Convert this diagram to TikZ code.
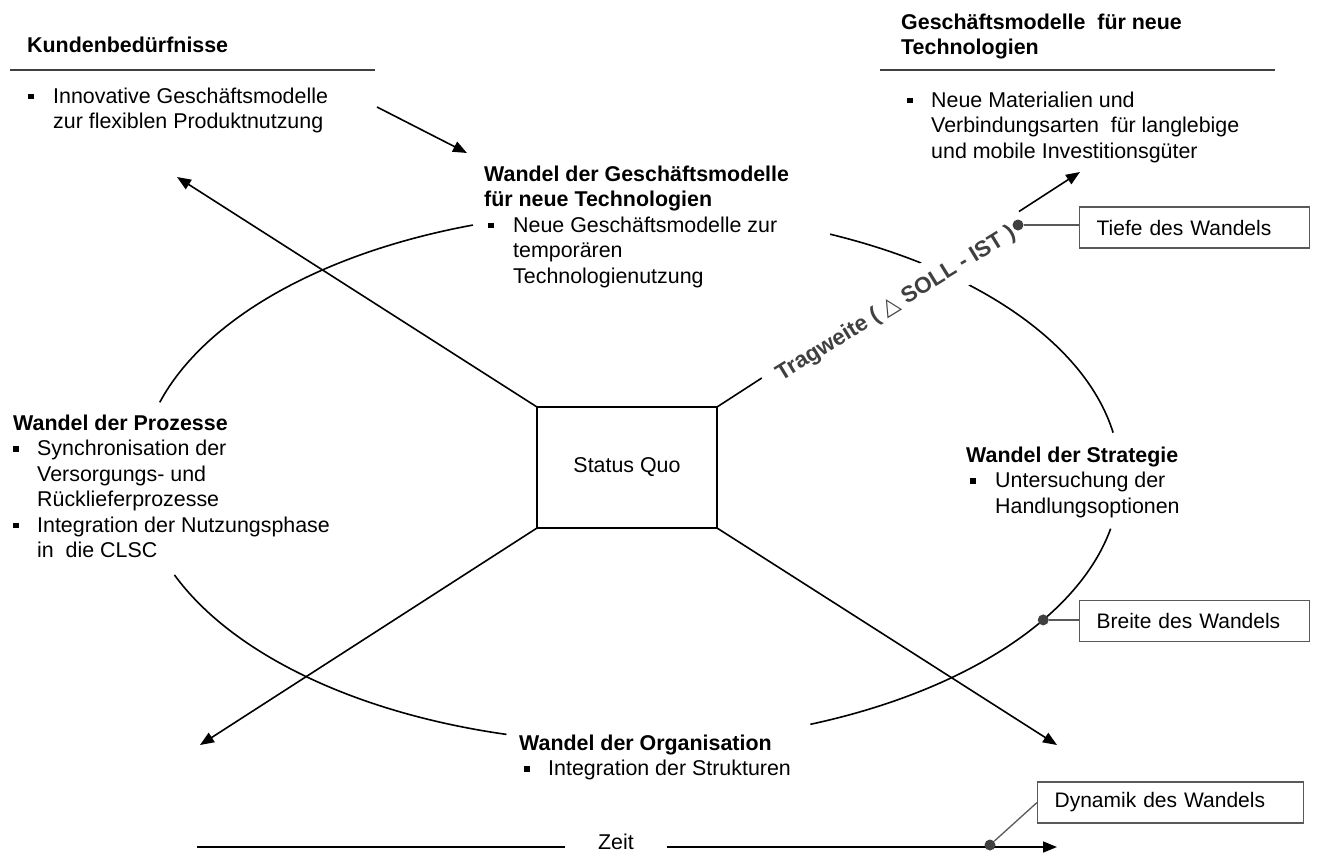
\documentclass[tikz,border=0pt]{standalone}
\usepackage{fontspec}
\setmainfont{Liberation Sans}
\newfontfamily\symfont{DejaVu Sans}
\usetikzlibrary{arrows.meta}

\definecolor{rulec}{HTML}{404040}
\definecolor{boxc}{HTML}{595959}
\definecolor{dotc}{HTML}{404040}
\definecolor{tragc}{HTML}{404040}

\newcommand{\fsz}{\fontsize{21.4}{25.5}\selectfont}
% square bullet: #1 = indent, #2 = width of the bullet column
\newcommand{\bul}[2]{\makebox[#2][l]{\hspace*{#1}\rule[4pt]{5.5pt}{5.5pt}}}
\newcommand{\hd}[1]{\multicolumn{2}{@{}l@{}}{\bfseries #1}}

\begin{document}
\begin{tikzpicture}[x=1pt,y=-1pt,
  txt/.style={inner sep=0pt, anchor=base west, font=\fsz, align=left},
  ln/.style={line width=1.6pt, draw=black},
  arr/.style={ln, -{Triangle[length=14pt,width=11pt]}},
  rulel/.style={line width=1.6pt, draw=rulec},
  callbox/.style={draw=boxc, line width=1.2pt, fill=white, inner xsep=17pt,
    inner ysep=0pt, minimum height=41pt, align=left, anchor=west,
    font=\fontsize{21}{25}\selectfont},
  dotn/.style={circle, fill=dotc, inner sep=0pt, minimum size=11pt},
  cline/.style={draw=boxc, line width=1.3pt},
  ring/.style={ln, x radius=490, y radius=266}]

\useasboundingbox (0,0) rectangle (1317,852);

% ---------- top left: customer needs ----------
\node[txt] (kh) at (27,52) {\bfseries Kundenbedürfnisse};
\coordinate (kr1) at (10,70);
\coordinate (kr2) at (375,70);
\draw[rulel] (kr1) -- (kr2);
\node[txt] (kl) at (28,103) {\begin{tabular}[t]{@{}l@{}l@{}}
\bul{0pt}{25pt} & Innovative Geschäftsmodelle\\
 & zur flexiblen Produktnutzung
\end{tabular}};

% ---------- top right: business models for new technologies ----------
\node[txt] (th) at (901,29) {\begin{tabular}[t]{@{}l@{}}
\bfseries Geschäftsmodelle\ \ für neue\\
\bfseries Technologien
\end{tabular}};
\coordinate (tr1) at (880,70);
\coordinate (tr2) at (1275,70);
\draw[rulel] (tr1) -- (tr2);
\node[txt] (tl) at (907,107) {\begin{tabular}[t]{@{}l@{}l@{}}
\bul{0pt}{24pt} & Neue Materialien und\\
 & Verbindungsarten\ \ für langlebige\\
 & und mobile Investitionsgüter
\end{tabular}};

% ---------- the four fields of change ----------
\node[txt] (gm) at (484,181) {\begin{tabular}[t]{@{}l@{}l@{}}
\hd{Wandel der Geschäftsmodelle}\\
\hd{für neue Technologien}\\
\bul{4pt}{29pt} & Neue Geschäftsmodelle zur\\
 & temporären\\
 & Technologienutzung
\end{tabular}};

\node[txt] (pz) at (13,430) {\begin{tabular}[t]{@{}l@{}l@{}}
\hd{Wandel der Prozesse}\\
\bul{0pt}{24pt} & Synchronisation der\\
 & Versorgungs- und\\
 & Rücklieferprozesse\\
\bul{0pt}{24pt} & Integration der Nutzungsphase\\
 & in\ \ die CLSC
\end{tabular}};

\node[txt] (st) at (966,462) {\begin{tabular}[t]{@{}l@{}l@{}}
\hd{Wandel der Strategie}\\
\bul{4pt}{29pt} & Untersuchung der\\
 & Handlungsoptionen
\end{tabular}};

\node[txt] (org) at (519,750) {\begin{tabular}[t]{@{}l@{}l@{}}
\hd{Wandel der Organisation}\\
\bul{5pt}{29pt} & Integration der Strukturen
\end{tabular}};

% ---------- status quo ----------
\node[draw=black, line width=1.6pt, outer sep=0pt, minimum width=180pt,
      minimum height=121pt, font=\fsz] (sq) at (627,467.5) {Status Quo};

% ---------- ring of change: four visible arcs of one ellipse ----------
\coordinate (ec) at (630,477);
\draw[ring] ([shift={(196.3:490 and 266)}]ec) arc[start angle=196.3, end angle=251.3];
\draw[ring] ([shift={(294.1:490 and 266)}]ec) arc[start angle=294.1, end angle=350.4];
\draw[ring] ([shift={(11.2:490 and 266)}]ec)  arc[start angle=11.2,  end angle=68.4];
\draw[ring] ([shift={(104.6:490 and 266)}]ec) arc[start angle=104.6, end angle=158.4];

% ---------- arrows ----------
\coordinate (ka) at (377,107);
\coordinate (kb) at (467,153);
\draw[arr] (ka) -- (kb);

\coordinate (nw) at (177,177);
\coordinate (sw) at (200,745);
\coordinate (se) at (1057,745);
\coordinate (ne) at (1080,172);
\draw[arr] (sq.north west) -- (nw);
\draw[arr] (sq.south west) -- (sw);
\draw[arr] (sq.south east) -- (se);
\draw[arr] (sq.north east) -- (ne);

% depth label along the diagonal
\node[fill=white, rotate=31.5, minimum width=306pt, minimum height=44pt,
      inner sep=0pt, font=\fontsize{22.5}{26}\selectfont\bfseries, text=tragc] (trag) at (896,304)
  {Tragweite ( {\symfont\mdseries △} SOLL - IST )};

% ---------- time axis ----------
\coordinate (ta) at (197,847);
\coordinate (tb) at (565,847);
\coordinate (tc) at (667,847);
\coordinate (td) at (1057,847);
\node[inner sep=0pt, font=\fsz] (zeit) at (616,842) {Zeit};
\draw[ln] (ta) -- (tb);
\draw[arr] (tc) -- (td);

% ---------- callouts ----------
\node[callbox, text width=196pt] (tiefe) at (1079,227.5) {Tiefe des Wandels};
\node[callbox, text width=196pt] (breite) at (1079,621) {Breite des Wandels};
\node[callbox, text width=232pt] (dyn) at (1037,802.5) {Dynamik des Wandels};

\node[dotn] (d1) at (1018,225) {};
\node[dotn] (d2) at ([shift={(32.5:490 and 266)}]ec) {};
\node[dotn] (d3) at (990,845) {};
\draw[cline] (d1) -- (d1 -| tiefe.west);
\draw[cline] (d2) -- (d2 -| breite.west);
\draw[cline] (d3) -- (dyn.west);
\end{tikzpicture}
\end{document}
